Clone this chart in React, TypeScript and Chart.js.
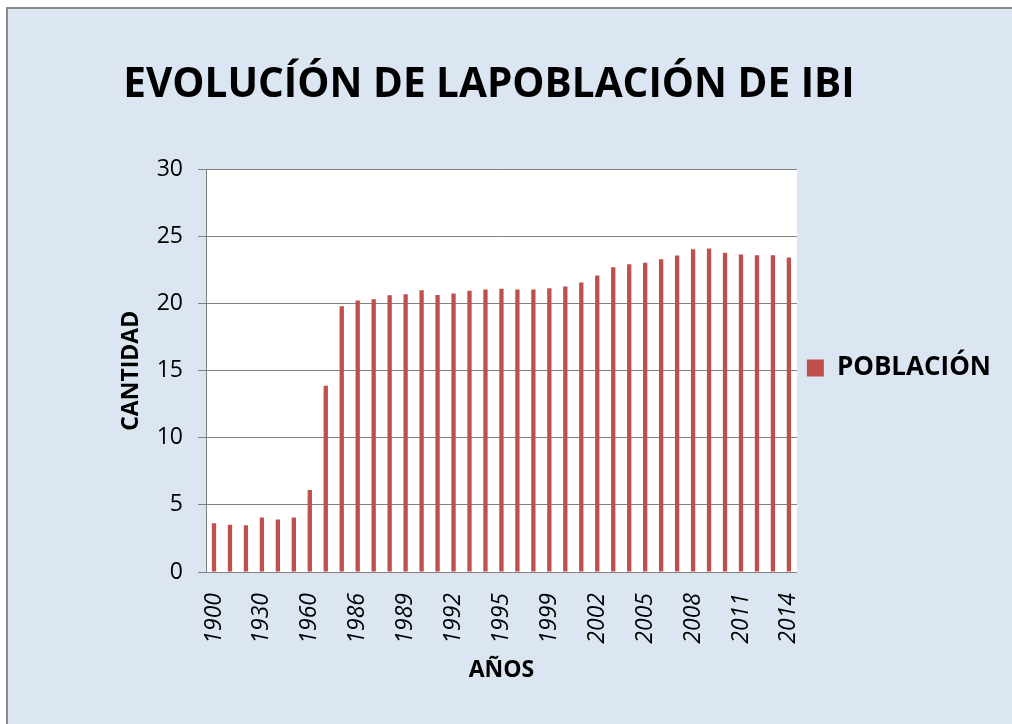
import React, { useEffect, useRef } from 'react';
import { Chart, registerables } from 'chart.js';

Chart.register(...registerables);

const years = [
  '1900', '1910', '1920', '1930', '1940', '1950', '1960', '1970', '1981',
  '1986', '1987', '1988', '1989', '1990', '1991', '1992', '1993', '1994', '1995', '1996',
  '1998', '1999', '2000', '2001', '2002', '2003', '2004', '2005', '2006', '2007', '2008',
  '2009', '2010', '2011', '2012', '2013', '2014',
];

const population = [
  3.63, 3.53, 3.48, 4.07, 3.92, 4.07, 6.11, 13.88, 19.82,
  20.24, 20.34, 20.64, 20.71, 21.01, 20.66, 20.76, 20.96, 21.06, 21.11, 21.06,
  21.06, 21.16, 21.28, 21.58, 22.10, 22.72, 22.95, 23.05, 23.32, 23.59, 24.06,
  24.11, 23.81, 23.67, 23.62, 23.62, 23.44,
];

const shownYears = [
  '1900', '1930', '1960', '1986', '1989', '1992', '1995', '1999',
  '2002', '2005', '2008', '2011', '2014',
];

const seriesName = 'POBLACIÓN';
const chartTitle = 'EVOLUCÍÓN DE LAPOBLACIÓN DE IBI';
const xTitle = 'AÑOS';
const yTitle = 'CANTIDAD';
const yMin = 0;
const yMax = 30;
const yStep = 5;

const FONT = "'Open Sans', sans-serif";
const GRID = '#808080';

const plotBg = {
  id: 'plotBg',
  beforeDraw(chart: any) {
    const { ctx, chartArea } = chart;
    if (!chartArea) return;
    ctx.save();
    ctx.fillStyle = '#ffffff';
    ctx.fillRect(chartArea.left, chartArea.top, chartArea.right - chartArea.left, chartArea.bottom - chartArea.top);
    ctx.restore();
  },
};

export default function App() {
  const ref = useRef<HTMLCanvasElement>(null);

  useEffect(() => {
    if (!ref.current) return;
    const chart = new Chart(ref.current, {
      type: 'bar',
      data: {
        labels: years,
        datasets: [
          {
            label: seriesName,
            data: population,
            backgroundColor: '#C0504D',
            borderWidth: 0,
            barPercentage: 0.27,
            categoryPercentage: 1,
          },
        ],
      },
      options: {
        responsive: false,
        animation: false,
        devicePixelRatio: 1,
        layout: { padding: { left: 0, right: 11, top: 0, bottom: 0 } },
        plugins: {
          title: {
            display: true,
            text: chartTitle,
            color: '#000',
            font: { family: FONT, size: 40.5, weight: 'bold' },
            padding: { top: 61, bottom: 60 },
          },
          legend: {
            position: 'right',
            title: {
              display: true,
              text: '',
              font: { family: FONT, size: 10 },
              padding: 0,
            },
            labels: {
              boxWidth: 17,
              boxHeight: 17,
              padding: 10,
              color: '#000',
              font: { family: FONT, size: 26, weight: 'bold' },
            },
          },
          tooltip: { enabled: false },
        },
        scales: {
          x: {
            grid: { display: false },
            border: { display: true, color: GRID, width: 1 },
            ticks: {
              autoSkip: false,
              minRotation: 90,
              maxRotation: 90,
              padding: 13,
              color: '#000',
              font: { family: FONT, size: 23, style: 'italic' },
              callback: (_v: any, i: number) => (shownYears.includes(years[i]) ? years[i] : ''),
            },
            title: {
              display: true,
              text: xTitle,
              color: '#000',
              font: { family: FONT, size: 23, weight: 'bold' },
              padding: { top: 0, bottom: 40 },
            },
            afterFit: (s: any) => {
              s.height = 152;
            },
          },
          y: {
            min: yMin,
            max: yMax,
            ticks: {
              stepSize: yStep,
              padding: 15,
              color: '#000',
              font: { family: FONT, size: 23 },
            },
            grid: { color: GRID, tickColor: GRID, tickLength: 8, lineWidth: 1 },
            border: { display: true, color: GRID, width: 1 },
            title: {
              display: true,
              text: yTitle,
              color: '#000',
              font: { family: FONT, size: 23, weight: 'bold' },
              padding: { top: 141, bottom: 0 },
            },
            afterFit: (s: any) => {
              s.width = 229;
            },
          },
        },
      },
      plugins: [plotBg],
    } as any);
    return () => chart.destroy();
  }, []);

  return (
    <div style={{ position: 'fixed', left: 0, top: 0, width: 1012, height: 724, overflow: 'hidden', background: '#fff' }}>
      <div
        style={{
          position: 'absolute',
          left: 6,
          top: 7,
          width: 1100,
          height: 800,
          borderLeft: '2px solid #8a8a8a',
          borderTop: '2px solid #8a8a8a',
          background: '#DCE6F2',
        }}
      />
      <canvas
        ref={ref}
        width={1035}
        height={724}
        style={{ position: 'absolute', left: -23, top: 0, width: 1035, height: 724 }}
      />
    </div>
  );
}
